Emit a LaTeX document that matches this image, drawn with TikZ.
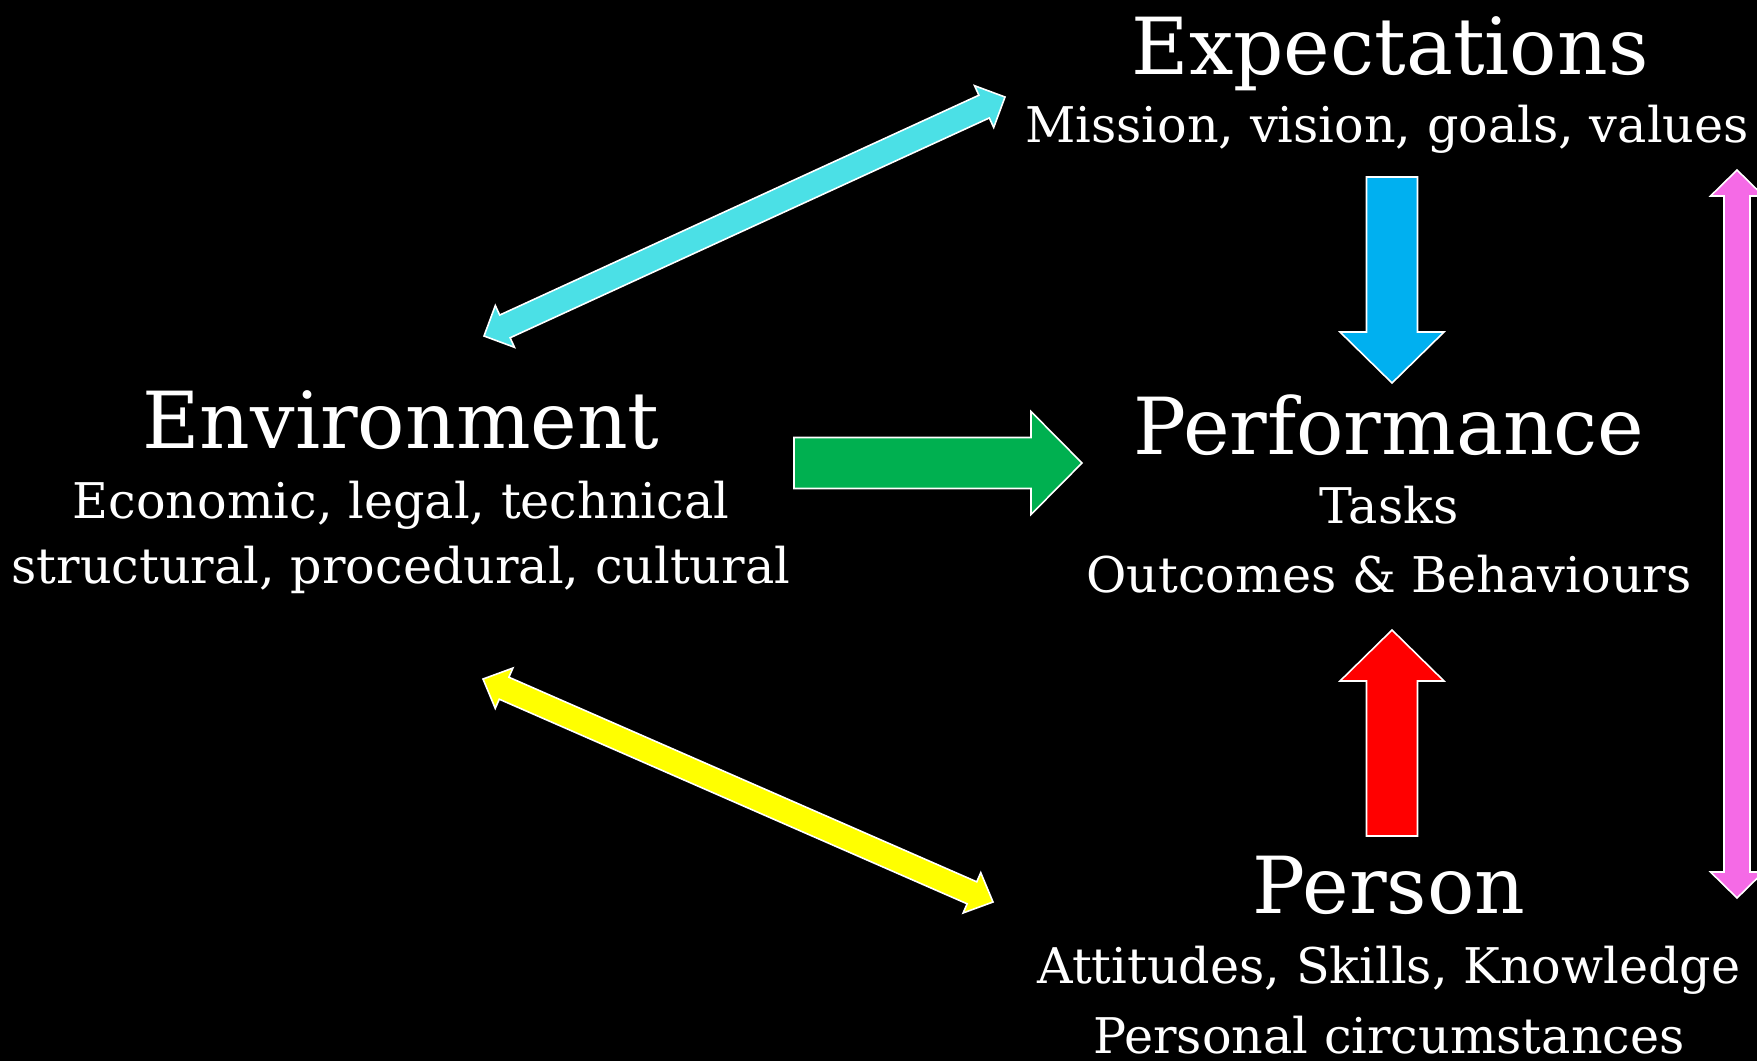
\documentclass[tikz,border=0pt]{standalone}
\usepackage{fontspec}
\setmainfont{DejaVu Serif}
\usetikzlibrary{calc}
\definecolor{downblue}{HTML}{00B0F0}
\definecolor{envgreen}{HTML}{00B050}
\definecolor{upred}{HTML}{FF0000}
\definecolor{linkcyan}{HTML}{4BE0E6}
\definecolor{linkyellow}{HTML}{FFFF00}
\definecolor{sidepink}{HTML}{F56AE6}
\tikzset{
  title/.style={text=white,anchor=base,inner sep=0pt,font=\fontsize{22.4}{28}\selectfont},
  sub/.style={text=white,anchor=base,inner sep=0pt,font=\fontsize{14}{17}\selectfont},
  outline/.style={draw=white,line width=0.45pt}
}
% block arrow: start, tip, half shaft, half head, head length, colour
\newcommand{\blockarrow}[6]{%
  \coordinate (hb) at ($(#2)!#5!(#1)$);
  \filldraw[fill=#6,outline] ($(#1)!#3!90:(#2)$) -- ($(hb)!#3!-90:(#1)$) -- ($(hb)!#4!-90:(#1)$) -- (#2)
    -- ($(hb)!#4!90:(#1)$) -- ($(hb)!#3!90:(#1)$) -- ($(#1)!#3!-90:(#2)$) -- cycle;
}
% double block arrow: tip, tip, half shaft, half head, head length, colour
\newcommand{\dblarrow}[6]{%
  \coordinate (ha) at ($(#1)!#5!(#2)$);
  \coordinate (hb) at ($(#2)!#5!(#1)$);
  \filldraw[fill=#6,outline] (#1) -- ($(ha)!#4!90:(#2)$) -- ($(ha)!#3!90:(#2)$) -- ($(hb)!#3!-90:(#1)$)
    -- ($(hb)!#4!-90:(#1)$) -- (#2) -- ($(hb)!#4!90:(#1)$) -- ($(hb)!#3!90:(#1)$)
    -- ($(ha)!#3!-90:(#2)$) -- ($(ha)!#4!-90:(#2)$) -- cycle;
}
\begin{document}
\begin{tikzpicture}[x=0.1mm,y=-0.1mm]
\fill[black] (0,0) rectangle (1757,1061);
\useasboundingbox (0,0) rectangle (1757,1061);

\node[title] (exp) at (1390,74) {Expectations};
\node[sub] (expsub) at (1387,142) {Mission, vision, goals, values};
\node[title] (env) at (401,448) {Environment};
\node[sub] (envsuba) at (401,518) {Economic, legal, technical};
\node[sub] (envsubb) at (401,583) {structural, procedural, cultural};
\node[title] (perf) at (1389,454) {Performance};
\node[sub] (tasks) at (1389,523) {Tasks};
\node[sub] (outc) at (1389,592) {Outcomes \& Behaviours};
\node[title] (pers) at (1389,913) {Person};
\node[sub] (perssuba) at (1389,983) {Attitudes, Skills, Knowledge};
\node[sub] (perssubb) at (1389,1053) {Personal circumstances};

\coordinate (blueS) at (1392,177);  \coordinate (blueT) at (1392,383);
\coordinate (redS) at (1392,836);   \coordinate (redT) at (1392,630);
\coordinate (greenS) at (794,463);  \coordinate (greenT) at (1082,463);
\coordinate (pinkA) at (1737,170);  \coordinate (pinkB) at (1737,898);
\coordinate (cyanA) at (484,336);   \coordinate (cyanB) at (1005,97);
\coordinate (yellA) at (483,679);   \coordinate (yellB) at (993,902);

\blockarrow{blueS}{blueT}{2.55mm}{5.2mm}{5.1mm}{downblue}
\blockarrow{redS}{redT}{2.55mm}{5.2mm}{5.1mm}{upred}
\blockarrow{greenS}{greenT}{2.55mm}{5.15mm}{5.1mm}{envgreen}
\dblarrow{pinkA}{pinkB}{1.3mm}{2.65mm}{2.6mm}{sidepink}
\dblarrow{cyanA}{cyanB}{1.25mm}{2.3mm}{2.3mm}{linkcyan}
\dblarrow{yellA}{yellB}{1.2mm}{2.2mm}{2.3mm}{linkyellow}
\end{tikzpicture}
\end{document}
